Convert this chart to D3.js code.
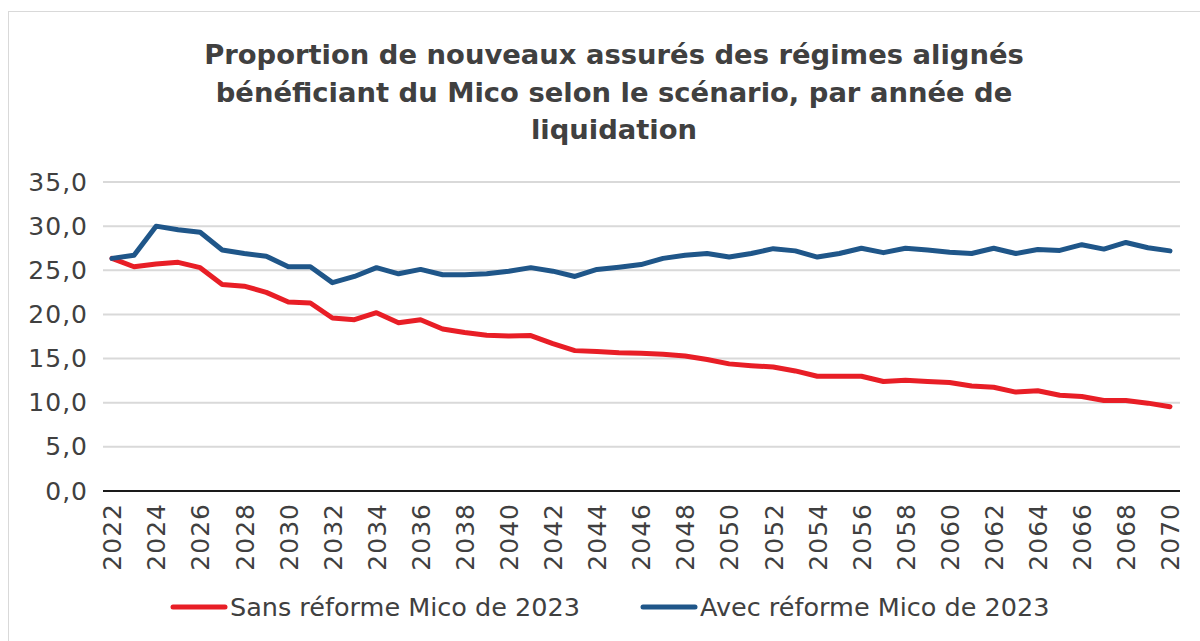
<!DOCTYPE html>
<html>
<head>
<meta charset="utf-8">
<script src="https://cdn.jsdelivr.net/npm/d3@7"></script>
<style>
  body { margin: 0; background: #fff; }
  svg text { font-family: "DejaVu Sans", sans-serif; fill: #404040; }
</style>
</head>
<body>
<script>
// ================================ data
var years = d3.range(2022, 2071);

var sansReforme = [26.35, 25.4, 25.7, 25.9, 25.3, 23.4, 23.2, 22.5, 21.4, 21.3,
  19.6, 19.4, 20.2, 19.05, 19.4, 18.35, 17.95, 17.65, 17.55, 17.6,
  16.7, 15.9, 15.8, 15.65, 15.6, 15.5, 15.3, 14.9, 14.4, 14.2,
  14.05, 13.6, 13.0, 13.0, 13.0, 12.4, 12.55, 12.4, 12.3, 11.9,
  11.75, 11.2, 11.35, 10.85, 10.7, 10.25, 10.25, 9.95, 9.55];

var avecReforme = [26.35, 26.7, 30.0, 29.6, 29.3, 27.3, 26.9, 26.6, 25.4, 25.4,
  23.6, 24.3, 25.3, 24.6, 25.1, 24.5, 24.5, 24.6, 24.9, 25.3,
  24.9, 24.3, 25.1, 25.35, 25.65, 26.35, 26.7, 26.9, 26.5, 26.9,
  27.45, 27.2, 26.5, 26.9, 27.5, 27.0, 27.5, 27.3, 27.05, 26.9,
  27.5, 26.9, 27.35, 27.25, 27.9, 27.4, 28.15, 27.55, 27.2];

var titleLines = ["Proportion de nouveaux assurés des régimes alignés",
  "bénéficiant du Mico selon le scénario, par année de",
  "liquidation"];

var seriesNames = ["Sans réforme Mico de 2023", "Avec réforme Mico de 2023"];
var seriesColors = ["#e81e26", "#1f5689"];
var yTicks = [0, 5, 10, 15, 20, 25, 30, 35];

// ================================ layout
var svgWidth = 1200;
var svgHeight = 641;

var chartMargin = {
  top: 182,
  right: 30,
  bottom: 150,
  left: 112
};
var chartWidth = 1170 - chartMargin.left;
var chartHeight = 491 - chartMargin.top;

var svg = d3.select("body")
  .append("svg")
  .attr("width", svgWidth)
  .attr("height", svgHeight);

// outer chart frame
svg.append("rect")
  .attr("x", 8.5)
  .attr("y", 11.5)
  .attr("width", 1200)
  .attr("height", 700)
  .attr("fill", "none")
  .attr("stroke", "#d9d9d9");

// title
svg.append("g")
  .selectAll("text")
  .data(titleLines)
  .enter()
  .append("text")
  .attr("x", 614)
  .attr("y", (d, i) => 64 + i * 37.5)
  .attr("text-anchor", "middle")
  .style("font-weight", "bold")
  .style("font-size", "27.4px")
  .text(d => d);

var chartGroup = svg.append("g")
  .attr("transform", `translate(${chartMargin.left}, ${chartMargin.top})`);

var xScale = d3.scaleLinear()
  .domain([2022, 2070])
  .range([0, chartWidth]);

var yScale = d3.scaleLinear()
  .domain([0, 35])
  .range([chartHeight, 0]);

var comma = d3.formatLocale({ decimal: ",", thousands: " ", grouping: [3], currency: ["", "€"] }).format(".1f");

// gridlines
chartGroup.append("g")
  .selectAll("line")
  .data(yTicks.filter(d => d > 0))
  .enter()
  .append("line")
  .attr("x1", -9)
  .attr("x2", chartWidth + 10)
  .attr("y1", d => yScale(d))
  .attr("y2", d => yScale(d))
  .attr("stroke", "#d9d9d9")
  .attr("stroke-width", 2);

// y axis (labels only)
var leftAxis = d3.axisLeft(yScale).tickValues(yTicks).tickFormat(comma).tickSize(0).tickPadding(24);
var yAxisG = chartGroup.append("g").call(leftAxis);
yAxisG.select(".domain").remove();
yAxisG.selectAll("text")
  .style("font-size", "25px")
  .style("letter-spacing", "1px")
  .style("fill", "#404040");

// x axis
var bottomAxis = d3.axisBottom(xScale).tickValues(d3.range(2022, 2071, 2)).tickFormat(d3.format("d")).tickSize(0);
var xAxisG = chartGroup.append("g")
  .attr("transform", `translate(0, ${chartHeight})`)
  .call(bottomAxis);
xAxisG.select(".domain")
  .attr("d", `M-9,0H${chartWidth + 10}`)
  .attr("stroke", "#1a1a1a")
  .attr("stroke-width", 2);
xAxisG.selectAll("text")
  .attr("y", 0)
  .attr("x", -12)
  .attr("dy", ".35em")
  .attr("transform", "rotate(-90)")
  .style("text-anchor", "end")
  .style("font-size", "25px")
  .style("letter-spacing", "1px")
  .style("fill", "#404040");

// lines
var line = d3.line()
  .x((d, i) => xScale(years[i]))
  .y(d => yScale(d));

[sansReforme, avecReforme].forEach(function (values, k) {
  chartGroup.append("path")
    .datum(values)
    .attr("fill", "none")
    .attr("stroke", seriesColors[k])
    .attr("stroke-width", 5)
    .attr("stroke-linejoin", "round")
    .attr("stroke-linecap", "round")
    .attr("d", line);
});

// legend
var legendX = [170, 640];
var legend = svg.append("g")
  .selectAll("g")
  .data(seriesNames)
  .enter()
  .append("g")
  .attr("transform", (d, i) => `translate(${legendX[i]}, 607)`);

legend.append("line")
  .attr("x1", 3)
  .attr("x2", 55)
  .attr("stroke", (d, i) => seriesColors[i])
  .attr("stroke-width", 5)
  .attr("stroke-linecap", "round");

legend.append("text")
  .attr("x", 60)
  .attr("dy", ".35em")
  .style("font-size", "25.5px")
  .text(d => d);
</script>
</body>
</html>
